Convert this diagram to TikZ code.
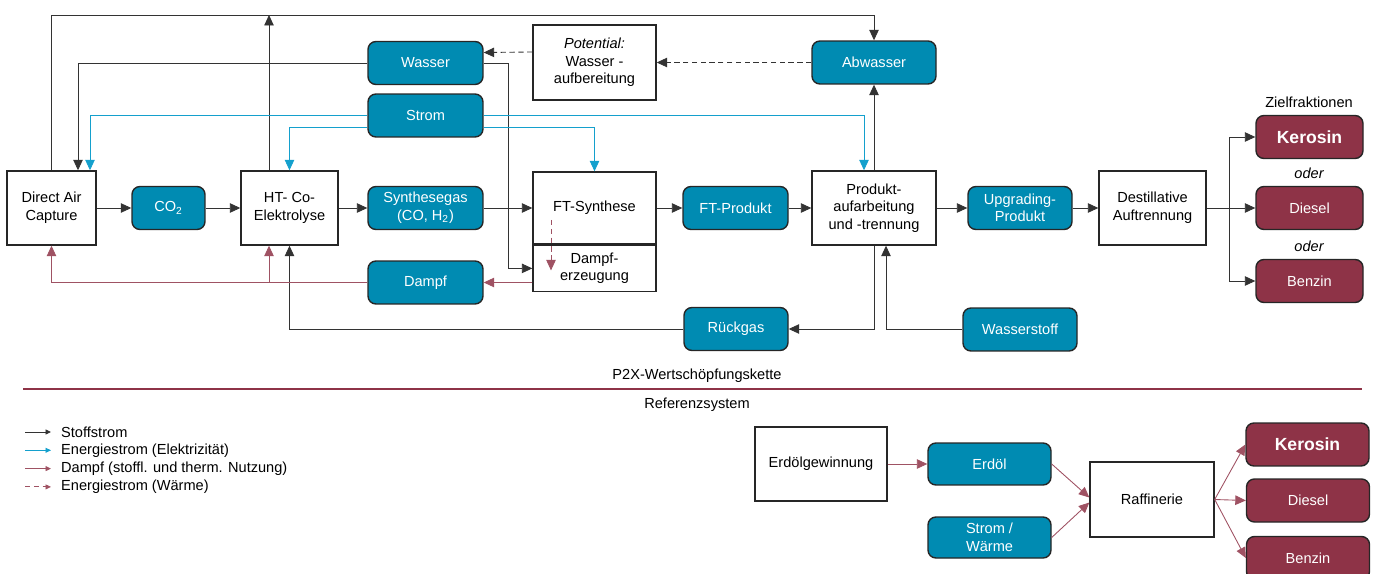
\documentclass[tikz,border=0pt]{standalone}
\usepackage{fontspec}
\setmainfont{Liberation Sans}
\usetikzlibrary{positioning, arrows.meta, calc}
\definecolor{petrol}{RGB}{0,139,178}
\definecolor{weinrot}{RGB}{142,51,71}
\definecolor{stromblau}{RGB}{20,160,205}

\begin{document}
\begin{tikzpicture}[
  x=0.02cm, y=-0.02cm,
  >={Triangle[length=2.1mm, width=1.9mm]},
  every node/.style={font=\fontsize{8.3}{10}\selectfont},
  box/.style    = {draw=black!85, line width=0.8pt, fill=white, align=center, inner sep=1pt},
  medium/.style = {box, rounded corners=4.5pt, fill=petrol, text=white},
  target/.style = {box, rounded corners=4.5pt, fill=weinrot, text=white},
  big/.style    = {box, minimum height=1.48cm},
  small/.style  = {minimum height=0.86cm},
  mass/.style   = {->, line width=0.5pt, black!80},
  elec/.style   = {->, line width=0.5pt, stromblau},
  steam/.style  = {->, line width=0.5pt, weinrot!85},
  heat/.style   = {steam, densely dashed},
  potarr/.style = {mass, densely dashed},
  note/.style   = {font=\fontsize{8.3}{10}\selectfont\itshape},
  legtip/.style = {>={Triangle[length=1.1mm, width=1mm]}},
]
  \clip (0,0) rectangle (1375,574);

  % P2X-Wertschoepfungskette, Hauptpfad
  \node[big, minimum width=1.78cm]           (dac)  at (51.5,208)  {Direct Air\\Capture};
  \node[medium, small, minimum width=1.46cm] (co2)  at (168.5,208) {CO\textsubscript{2}};
  \node[big, minimum width=1.94cm]           (ht)   at (289.5,208) {HT- Co-\\Elektrolyse};
  \node[medium, small, minimum width=2.3cm]  (syn)  at (425.5,208) {Synthesegas\\(CO, H\textsubscript{2})};
  \node[box, minimum width=2.46cm, minimum height=1.44cm] (ft) at (594.5,208) {FT-Synthese};
  \node[box, minimum width=2.46cm, minimum height=0.92cm, below=0pt of ft] (dampferz) {Dampf-\\erzeugung};
  \node[medium, small, minimum width=2.1cm]  (ftp)  at (735.5,208) {FT-Produkt};
  \node[big, minimum width=2.48cm]           (prod) at (874,208)   {Produkt-\\aufarbeitung\\und -trennung};
  \node[medium, small, minimum width=2.08cm] (upg)  at (1020,208)  {Upgrading-\\Produkt};
  \node[big, minimum width=2.14cm]           (dest) at (1152.5,208) {Destillative\\Auftrennung};
  \node[target, small, minimum width=2.14cm] (diesel) at (1309.5,208) {Diesel};

  % Medien oben und unten
  \node[medium, small, minimum width=2.3cm]  (wasser) at (425.5,63)  {Wasser};
  \node[medium, small, minimum width=2.3cm]  (strom)  at (425.5,115.5) {Strom};
  \node[medium, small, minimum width=2.3cm]  (dampf)  at (425.5,282.5) {Dampf};
  \node[box, minimum width=2.46cm, minimum height=1.5cm] (pot) at (594.5,62.5) {\textit{Potential:}\\Wasser -\\aufbereitung};
  \node[medium, small, minimum width=2.48cm] (abw)    at (874,62.5)  {Abwasser};
  \node[medium, small, minimum width=2.08cm] (rueck)  at (736,329)   {Rückgas};
  \node[medium, small, minimum width=2.28cm] (h2)     at (1020,329.5) {Wasserstoff};

  % Zielfraktionen
  \node                                       (ziel)   at (1309,102)  {Zielfraktionen};
  \node[target, small, minimum width=2.14cm, font=\fontsize{10}{12}\selectfont\bfseries] (kero) at (1309.5,137) {Kerosin};
  \node[target, small, minimum width=2.14cm] (benz)   at (1309.5,281) {Benzin};
  \node[note]                                 (oder1)  at (1309,173)  {oder};
  \node[note]                                 (oder2)  at (1309,246)  {oder};

  \coordinate (top) at (0,15);
  \coordinate (hx)  at ($(ht.north)+(-20.5,0)$);
  \coordinate (hy)  at ($(ht.south)+(-20.5,0)$);

  % Stoffstroeme
  \foreach \a/\b in {dac/co2,co2/ht,ht/syn,syn/ft,ft/ftp,ftp/prod,prod/upg,upg/dest,dest/diesel}
     \draw[mass] (\a) -- (\b);
  \draw[mass] (dac.north) |- (top -| abw.north) -- (abw.north);
  \draw[mass] (hx) -- (hx |- top);
  \draw[mass] (prod.north) -- (abw.south);
  \draw[mass] (wasser.west) -| ($(dac.north)+(26.5,0)$);
  \draw[mass] (wasser.east) -- ++(25,0) |- (dampferz.west);
  \draw[mass] (prod.south) |- (rueck.east);
  \draw[mass] (rueck.west) -| (ht.south);
  \draw[mass] (h2.west) -| ($(prod.south)+(12,0)$);
  \draw[mass] ($(dest.east)+(23,0)$) coordinate (br) |- (kero.west);
  \draw[mass] (br) |- (benz.west);
  \draw[potarr] (abw.west) -- (pot.east);
  \draw[potarr] ($(pot.west)+(0,-10.5)$) -- ($(wasser.east)+(0,-10.5)$);

  % Energiestroeme
  \draw[elec] (strom.west) -| ($(dac.north)+(38.5,0)$);
  \draw[elec] ($(strom.west)+(0,11.5)$) -| (ht.north);
  \draw[elec] (strom.east) -| ($(prod.north)+(-10,0)$);
  \draw[elec] ($(strom.east)+(0,11.5)$) -| (ft.north);

  % Dampf und Waerme
  \draw[steam] (dampf.east -| dampferz.west) -- (dampf.east);
  \draw[steam] (dampf.west) -| (dac.south);
  \draw[steam] (dampf.west -| hy) -- (hy);
  \draw[heat] ($(ft.center)+(-43.5,12)$) -- ($(dampferz.center)+(-43.5,2)$);

  % Trennlinie
  \coordinate (sepl) at (23,389);
  \coordinate (sepr) at (1362,389);
  \draw[weinrot, line width=0.6pt] (sepl) -- (sepr);
  \node (p2x) at (697,376) {P2X-Wertschöpfungskette};
  \node (ref) at (697,405) {Referenzsystem};

  % Legende
  \foreach \s/\t [count=\i] in {mass/Stoffstrom, elec/Energiestrom (Elektrizität), steam/Dampf (stoffl. und therm. Nutzung), heat/Energiestrom (Wärme)}{
    \node[anchor=west] (leg\i) at (55,{432+18.3*(\i-1)}) {\t};
    \coordinate (ls\i) at ($(leg\i.west)+(-30,0)$);
    \coordinate (le\i) at ($(leg\i.west)+(-4,0)$);
    \draw[\s, legtip] (ls\i) -- (le\i);
  }

  % Referenzsystem
  \node[big, minimum width=2.64cm]           (erdgew) at (821,464)    {Erdölgewinnung};
  \node[medium, minimum width=2.46cm, minimum height=0.84cm] (erdoel) at (989.5,464) {Erdöl};
  \node[medium, minimum width=2.46cm, minimum height=0.82cm] (swaerme) at (989.5,537.5) {Strom /\\Wärme};
  \node[box, minimum width=2.48cm, minimum height=1.5cm] (raff) at (1152,499.5) {Raffinerie};
  \node[target, small, minimum width=2.46cm, font=\fontsize{10}{12}\selectfont\bfseries] (kero2) at (1307.5,444.5) {Kerosin};
  \node[target, small, minimum width=2.46cm] (diesel2) at (1308,500.5) {Diesel};
  \node[target, small, minimum width=2.46cm] (benz2)   at (1308,558)   {Benzin};
  \draw[steam] (erdgew) -- (erdoel);
  \draw[steam] (erdoel.east) -- ($(raff.west)+(0,-2)$);
  \draw[steam] (swaerme.east) -- ($(raff.west)+(0,3)$);
  \foreach \z in {kero2,diesel2,benz2}
     \draw[steam] (raff.east) -- (\z.west);
\end{tikzpicture}
\end{document}
